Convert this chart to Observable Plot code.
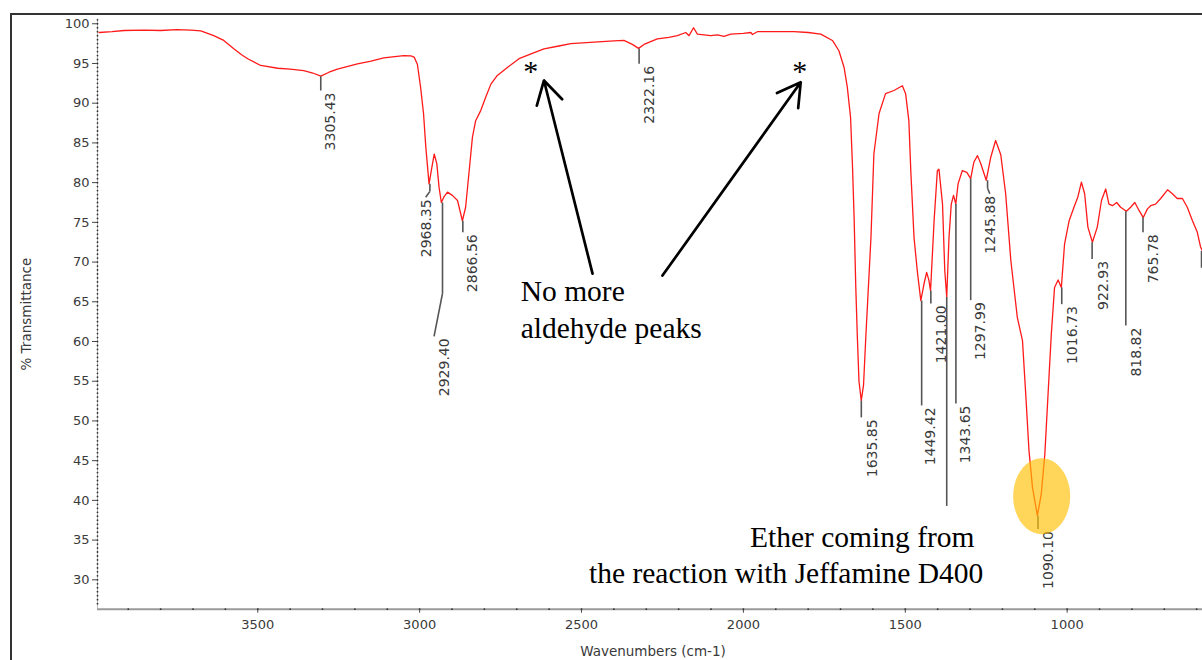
<!DOCTYPE html>
<html>
<head>
<meta charset="utf-8">
<script src="https://cdn.jsdelivr.net/npm/d3@7"></script>
<script src="https://cdn.jsdelivr.net/npm/@observablehq/plot@0.6"></script>
<style>
html, body { margin: 0; padding: 0; background: #fff; }
#wrap { position: relative; width: 1202px; height: 660px; overflow: hidden; background: #fff; }
#wrap svg { position: absolute; left: 0; top: 0; }
#frame { position: absolute; left: 10px; top: 13px; right: -5px; bottom: -5px; border-top: 2px solid #333; border-left: 2px solid #333; pointer-events: none; }
</style>
</head>
<body>
<div id="wrap"><div id="frame"></div></div>
<script>
// ---- Spectrum (wavenumber cm-1, % transmittance) ----
const waveNumbers = [3990,3950,3913,3850,3800,3750,3707,3676,3636,3605,3574,3550,3531,3491,3438,3400,3358,3330,3305,3280,3254,3192,3150,3111,3049,3027,3017,3007,2997,2988,2981,2971,2964,2955,2947,2940,2933,2925,2914,2899,2883,2868,2858,2847,2837,2827,2811,2796,2780,2760,2729,2693,2650,2616,2570,2533,2461,2400,2369,2343,2324,2307,2266,2230,2204,2178,2168,2154,2142,2101,2080,2060,2039,2000,1977,1972,1957,1900,1844,1800,1761,1725,1705,1689,1679,1669,1663,1658,1653,1648,1643,1636,1629,1622,1606,1597,1581,1561,1535,1509,1499,1489,1483,1473,1463,1452,1442,1434,1427,1422,1411,1401,1396,1385,1378,1372,1365,1358,1351,1344,1337,1324,1310,1298,1288,1277,1267,1250,1236,1221,1205,1190,1174,1154,1138,1128,1118,1107,1092,1080,1069,1059,1049,1039,1028,1018,1008,994,979,967,956,946,936,922,907,894,881,871,860,847,835,817,804,791,778,765,752,742,727,711,690,675,660,644,629,613,598,588,582];
const transmittance = [98.9,99.0,99.15,99.2,99.15,99.25,99.2,99.1,98.5,97.9,96.85,96.1,95.6,94.75,94.4,94.3,94.1,93.8,93.4,93.9,94.3,94.96,95.3,95.7,96.0,95.95,95.8,94.9,92.0,88.7,84.5,79.85,81.5,83.6,82.4,79.4,77.5,78.2,78.8,78.4,77.75,75.2,76.9,81.5,85.7,87.8,89.1,90.75,92.4,93.5,94.5,95.6,96.3,96.85,97.2,97.5,97.7,97.85,97.9,97.4,96.9,97.4,98.1,98.3,98.5,98.9,98.5,99.5,98.7,98.5,98.6,98.4,98.7,98.8,98.9,98.65,99.0,99.0,99.0,98.9,98.7,97.9,96.6,94.5,92.0,88.2,82.0,75.5,67.0,60.5,55.0,52.55,54.5,60.5,73.1,83.6,88.7,91.2,91.6,92.2,91.2,87.8,81.5,73.1,68.9,65.15,67.3,68.7,67.7,66.4,75.2,81.5,81.7,77.3,68.9,65.6,73.1,77.3,78.4,77.3,79.85,81.5,81.3,80.5,82.6,83.4,82.4,80.3,83.2,85.3,83.5,78.6,70.2,63.05,60.1,53.4,46.3,41.6,38.1,40.8,45.8,53.4,60.9,66.8,67.75,66.8,72.3,75.2,76.9,78.2,80.05,78.6,74.4,72.5,74.4,77.75,79.2,77.3,77.1,77.5,76.9,76.4,76.9,77.5,76.5,75.6,76.7,77.1,77.3,78.0,79.1,78.6,78.0,78.0,76.9,75.2,73.75,71.9,71.4];

// ---- Peak picks ----
const peakLabels  = ["3305.43","2968.35","2929.40","2866.56","2322.16","1635.85","1449.42","1421.00","1343.65","1297.99","1245.88","1090.10","1016.73","922.93","818.82","765.78"];
const peakWn      = [3305.43,2968.35,2929.40,2866.56,2322.16,1635.85,1449.42,1421.00,1343.65,1297.99,1245.88,1090.10,1016.73,922.93,818.82,765.78];
const peakT       = [93.4,79.85,77.5,75.2,96.9,52.55,65.15,66.4,77.3,80.5,80.3,38.1,66.8,72.5,76.4,75.6];
const bendT       = [null,78.9,66.05,null,null,null,null,null,null,null,79.3,null,null,null,null,null];
const leaderEndWn = [3305.43,2981.2,2955.5,2866.56,2322.16,1635.85,1449.42,1421.00,1343.65,1297.99,1239.0,1090.10,1016.73,922.93,818.82,765.78];
const leaderEndT  = [91.6,78.15,60.65,73.75,94.96,50.45,51.95,64.8,52.2,65.2,78.6,36.4,64.7,70.4,62.0,73.75];
const labelWn     = [3274.6,2978.1,2923.4,2836.9,2291.5,1600.7,1421.6,1387.6,1313.5,1267.1,1236.3,1056.2,983.9,888.2,786.3,731.9];
// leader lines whose labels are hidden / cut off
const bareLeaderWn = [1372, 585];
const bareLeaderT1 = [65.6, 71.4];
const bareLeaderT2 = [39.3, 69.3];

// ---- Axes ----
const xTicks = [3500, 3000, 2500, 2000, 1500, 1000];
const yTicks = [30, 35, 40, 45, 50, 55, 60, 65, 70, 75, 80, 85, 90, 95, 100];
const xDomain = [3995, 582];
const yDomain = [26.3, 100.6];
const xMinor = d3.range(3900, 581, -100);
const yMinor = d3.range(27, 100.6, 0.5);

// ---- Annotations ----
const starWn = [2657, 1826];
const starT = [94.0, 94.0];
const arrowFromWn = [2466, 2250];
const arrowFromT  = [68.55, 68.3];
const arrowToWn   = [2616, 1823];
const arrowToT    = [92.86, 92.64];
const noteText = ["No more", "aldehyde peaks", "Ether coming from", "the reaction with Jeffamine D400"];
const noteWn   = [2687.8, 2687.8, 1979.6, 2476.8];
const noteT    = [65.15, 60.49, 34.09, 29.61];
const highlightWn = [1078.8];
const highlightT = [40.53];

// build tables
const spectrum = waveNumbers.map((w, i) => ({w, t: transmittance[i]}));
const peaks = peakLabels.map((label, i) => ({label, w: peakWn[i], t: peakT[i], bt: bendT[i], ew: leaderEndWn[i], et: leaderEndT[i], lw: labelWn[i]}));
const leaders = [];
for (const p of peaks) {
  if (p.bt != null) {
    leaders.push({x1: p.w, y1: p.t, x2: p.w, y2: p.bt});
    leaders.push({x1: p.w, y1: p.bt, x2: p.ew, y2: p.et});
  } else {
    leaders.push({x1: p.w, y1: p.t, x2: p.ew, y2: p.et});
  }
}
bareLeaderWn.forEach((w, i) => leaders.push({x1: w, y1: bareLeaderT1[i], x2: w, y2: bareLeaderT2[i]}));
const stars = starWn.map((w, i) => ({w, t: starT[i]}));
const arrows = arrowFromWn.map((w, i) => ({x1: w, y1: arrowFromT[i], x2: arrowToWn[i], y2: arrowToT[i]}));
const notes = noteText.map((text, i) => ({text, w: noteWn[i], t: noteT[i]}));
const highlight = highlightWn.map((w, i) => ({w, t: highlightT[i]}));

// ellipse symbol for the highlight
const ellipseSymbol = {
  draw(ctx) {
    const rx = 28.5, ry = 38, k = 0.5523;
    ctx.moveTo(rx, 0);
    ctx.bezierCurveTo(rx, ry * k, rx * k, ry, 0, ry);
    ctx.bezierCurveTo(-rx * k, ry, -rx, ry * k, -rx, 0);
    ctx.bezierCurveTo(-rx, -ry * k, -rx * k, -ry, 0, -ry);
    ctx.bezierCurveTo(rx * k, -ry, rx, -ry * k, rx, 0);
    ctx.closePath();
  }
};

const chart = Plot.plot({
  width: 1202,
  height: 660,
  marginLeft: 97,
  marginRight: 0,
  marginTop: 18.5,
  marginBottom: 51.3,
  style: {fontFamily: "DejaVu Sans", fontSize: "13px", color: "#3a3a3a", background: "transparent", overflow: "visible"},
  x: {domain: xDomain},
  y: {domain: yDomain},
  marks: [
    // axis lines
    Plot.ruleX([xDomain[0]], {stroke: "#b8b8b8", strokeWidth: 1}),
    Plot.ruleY([yDomain[0]], {stroke: "#9a9a9a", strokeWidth: 2}),
    Plot.dot(yMinor, {x: xDomain[0], y: d => d, r: 0.9, fill: "#333", stroke: null}),
    Plot.dot(xMinor, {x: d => d, y: yDomain[0], r: 0.9, fill: "#333", stroke: null}),
    Plot.axisY(yTicks, {anchor: "left", tickSize: 5, tickPadding: 3, label: null, fontSize: 13, stroke: "#444", tickFormat: d => String(d)}),
    Plot.axisX(xTicks, {anchor: "bottom", tickSize: 4, tickPadding: 7, label: null, fontSize: 13, stroke: "#444", tickFormat: d => String(d)}),
    // axis titles
    Plot.text(["% Transmittance"], {frameAnchor: "left", dx: -71, textAnchor: "middle", lineAnchor: "middle", rotate: -90, fontSize: 13.5, fill: "#3a3a3a"}),
    Plot.text(["Wavenumbers (cm-1)"], {frameAnchor: "bottom", dx: 3, dy: 42, textAnchor: "middle", lineAnchor: "middle", fontSize: 13.5, fill: "#3a3a3a"}),
    // spectrum
    Plot.line(spectrum, {x: "w", y: "t", stroke: "#ff1a1a", strokeWidth: 1.3}),
    // peak leaders and labels
    Plot.link(leaders, {x1: "x1", y1: "y1", x2: "x2", y2: "y2", stroke: "#555", strokeWidth: 1.6}),
    Plot.text(peaks, {x: "lw", y: "et", text: "label", rotate: -90, textAnchor: "end", dy: 2, fontSize: 14, fill: "#3a3a3a"}),
    // annotations
    Plot.arrow(arrows, {x1: "x1", y1: "y1", x2: "x2", y2: "y2", stroke: "#000", strokeWidth: 2.7, headLength: 14.5, headAngle: 60}),
    Plot.text(stars, {x: "w", y: "t", text: () => "*", fontFamily: "Liberation Serif", fontSize: 30, fill: "#000"}),
    Plot.text(notes, {x: "w", y: "t", text: "text", textAnchor: "start", lineAnchor: "bottom", fontFamily: "Liberation Serif", fontSize: 29.5, fill: "#000"}),
    Plot.dot(highlight, {x: "w", y: "t", symbol: ellipseSymbol, r: 30, fill: "#FFC000", fillOpacity: 0.65, stroke: null})
  ]
});
document.getElementById("wrap").appendChild(chart);
</script>
</body>
</html>
